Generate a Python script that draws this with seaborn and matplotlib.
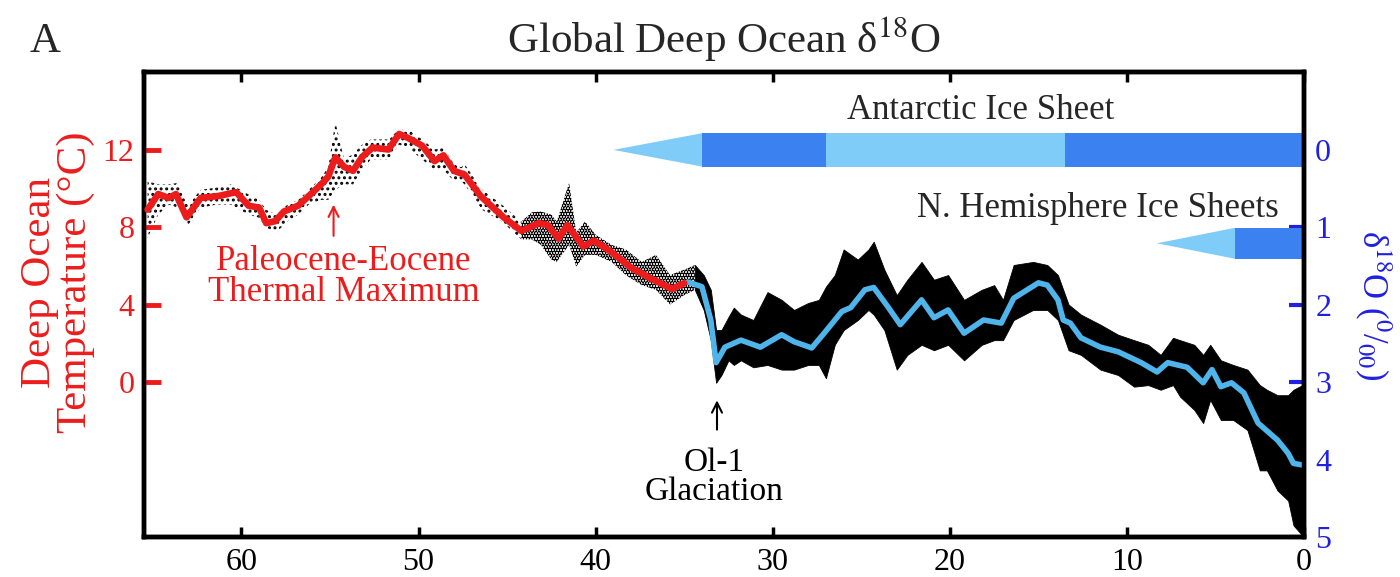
import numpy as np
import pandas as pd
import matplotlib
matplotlib.use("Agg")
import matplotlib.pyplot as plt
from matplotlib.patches import Polygon
import seaborn as sns

# --- data (age in Myr before present) ---
temp_age = [65.3, 64.7, 64.1, 63.7, 63.1, 62.3, 61.3, 60.3, 59.6, 59.0, 58.6, 58.1,
            57.6, 56.8, 56.2, 55.5, 55.1, 54.7, 54.2, 53.7, 53.2, 52.6, 51.7, 51.1,
            50.6, 49.8, 49.1, 48.6, 48.0, 47.4, 46.5, 45.2, 44.2, 43.2, 42.7, 42.1,
            41.6, 40.7, 40.1, 39.1, 38.0, 37.0, 35.7, 35.0]
temp_val = [8.9, 9.7, 9.5, 9.7, 8.5, 9.5, 9.6, 9.8, 9.1, 9.0, 8.2, 8.3,
            8.8, 9.1, 9.6, 10.2, 10.6, 11.6, 11.1, 10.9, 11.6, 12.1, 12.0, 12.8,
            12.6, 12.2, 11.4, 11.7, 10.9, 10.7, 9.6, 8.5, 7.8, 8.2, 8.1, 7.4,
            8.1, 7.0, 7.3, 6.7, 5.9, 5.4, 4.8, 5.1]

d18o_age = [34.8, 34.0, 33.5, 33.2, 32.7, 31.8, 30.7, 29.5, 28.8, 27.8, 27.1, 26.1,
            25.6, 24.8, 24.3, 23.5, 22.8, 21.6, 20.9, 20.1, 19.2, 18.1, 17.1, 16.4,
            15.0, 14.5, 13.9, 13.6, 13.2, 12.6, 11.5, 10.5, 9.2, 8.3, 7.7, 6.6,
            5.7, 5.2, 4.7, 4.1, 3.4, 2.6, 1.5, 0.9, 0.6, 0.1]
d18o_val = [1.71, 1.77, 2.20, 2.75, 2.55, 2.46, 2.55, 2.39, 2.48, 2.56, 2.37, 2.09,
            2.04, 1.81, 1.78, 2.03, 2.26, 1.94, 2.17, 2.07, 2.37, 2.20, 2.24, 1.92,
            1.72, 1.75, 1.94, 2.20, 2.24, 2.43, 2.55, 2.61, 2.75, 2.87, 2.75, 2.81,
            3.01, 2.84, 3.06, 3.01, 3.14, 3.53, 3.75, 3.92, 4.05, 4.07]

# spread of the raw d18O measurements (upper / lower edge of the black cloud)
# Paleocene / early Eocene: sparse samples
sparse_age = [65.3, 64.7, 64.1, 63.6, 63.0, 62.3, 61.4, 60.6, 59.6, 59.0, 58.6, 58.0,
              57.4, 56.8, 56.2, 55.5, 55.1, 54.7, 54.2, 53.7, 53.2, 52.7, 51.7, 51.1,
              50.6, 49.8, 49.1, 48.6, 48.0, 47.6, 47.4, 46.4, 45.3, 44.2]
sparse_top = [0.41, 0.45, 0.45, 0.43, 0.71, 0.52, 0.49, 0.45, 0.58, 0.65, 0.78, 0.84,
              0.71, 0.65, 0.52, 0.36, 0.23, -0.36, 0.13, 0.06, -0.06, -0.13, -0.13, -0.26,
              -0.26, -0.13, 0.00, -0.03, 0.19, 0.23, 0.19, 0.52, 0.71, 0.93]
sparse_bottom = [1.14, 0.84, 0.71, 0.75, 0.97, 0.75, 0.71, 0.71, 0.84, 0.88, 1.01, 1.06,
                 0.93, 0.84, 0.71, 0.65, 0.65, 0.52, 0.45, 0.45, 0.26, 0.13, 0.13, -0.06,
                 -0.03, 0.13, 0.26, 0.26, 0.41, 0.41, 0.45, 0.78, 0.93, 1.16]
# middle / late Eocene: denser samples
mid_age = [44.2, 43.6, 43.1, 42.5, 42.2, 41.5, 41.1, 40.6, 40.0, 39.1, 38.3, 37.4,
           36.6, 35.8, 35.0, 34.4]
mid_top = [0.93, 0.81, 0.80, 0.84, 0.93, 0.43, 1.07, 0.93, 1.10, 1.23, 1.29, 1.45,
           1.36, 1.62, 1.55, 1.49]
mid_bottom = [1.16, 1.16, 1.23, 1.42, 1.45, 1.23, 1.51, 1.36, 1.36, 1.45, 1.62, 1.75,
              1.81, 2.00, 1.88, 1.81]
# Oligocene to present: dense record
dense_age = [34.4, 33.9, 33.5, 33.2, 32.9, 32.5, 32.2, 31.8, 31.1,
             30.3, 29.5, 28.8, 28.0, 27.4, 27.0, 26.5, 26.0, 25.2, 24.6, 24.3, 23.7,
             23.0, 22.4, 21.6, 20.9, 20.1, 19.2, 18.2, 17.5, 17.0, 16.4, 15.3, 14.5,
             13.9, 13.3, 12.6, 11.5, 10.5, 9.6, 8.8, 8.1, 7.4, 7.0, 6.2, 5.7,
             5.3, 4.7, 4.0, 3.2, 2.5, 2.1, 1.5, 0.9, 0.6, 0.1, 0.0]
dense_top = [1.49, 1.62, 1.81, 2.33, 2.33, 2.16, 2.04, 2.13, 2.20,
             1.84, 1.94, 2.07, 1.98, 1.94, 1.77, 1.62, 1.29, 1.42, 1.29, 1.19, 1.55,
             1.88, 1.68, 1.45, 1.68, 1.62, 1.94, 1.81, 1.75, 1.94, 1.49, 1.45, 1.49,
             1.62, 2.00, 2.13, 2.26, 2.39, 2.46, 2.52, 2.65, 2.43, 2.46, 2.52, 2.65,
             2.52, 2.72, 2.78, 2.84, 3.04, 3.10, 3.17, 3.17, 3.10, 3.04, 3.04]
dense_bottom = [1.81, 2.07, 2.46, 3.01, 2.91, 2.72, 2.78, 2.72, 2.81,
                2.78, 2.84, 2.84, 2.78, 2.78, 2.95, 2.52, 2.33, 2.20, 2.07, 2.13, 2.33,
                2.84, 2.65, 2.52, 2.59, 2.52, 2.72, 2.52, 2.46, 2.46, 2.20, 2.07, 2.07,
                2.20, 2.59, 2.65, 2.84, 2.91, 3.06, 3.04, 3.10, 3.04, 3.19, 3.36, 3.53,
                3.23, 3.49, 3.49, 3.62, 4.14, 4.14, 4.40, 4.53, 4.85, 4.98, 4.98]

# ice sheet bars: (older age, younger age, shade)
antarctic_segments = [(34.0, 27.0, "dark"), (27.0, 13.5, "light"), (13.5, 0.0, "dark")]
antarctic_tip = 39.0
nh_segments = [(3.9, 0.0, "dark")]
nh_tip = 8.3

x_ticks = [60, 50, 40, 30, 20, 10, 0]
temp_ticks = [0, 4, 8, 12]
d18o_ticks = [0, 1, 2, 3, 4, 5]

RED = "#ec1c1c"
BLUE_LINE = "#4fb4ea"
BLUE_TXT = "#2020e0"
SHADES = {"dark": "#3b82f0", "light": "#80ccf8"}

sns.set_style("ticks")
plt.rcParams["font.family"] = ["Liberation Serif", "DejaVu Serif"]
plt.rcParams["mathtext.fontset"] = "stix"

fig = plt.figure(figsize=(14, 5.77), dpi=100)
ax = fig.add_axes([0.1029, 0.0693, 0.8286, 0.8059])
ax2 = ax.twinx()
# temperature curve must sit above the d18O cloud
ax.set_zorder(ax2.get_zorder() + 1)
ax.patch.set_visible(False)

# raw data cloud (dotted where the samples are sparse)
plt.rcParams["hatch.linewidth"] = 1.4
ax2.fill_between(sparse_age, sparse_top, sparse_bottom, facecolor="none",
                 edgecolor="black", hatch="...", lw=0, zorder=1)
plt.rcParams["hatch.linewidth"] = 2.2
ax2.fill_between(mid_age, mid_top, mid_bottom, facecolor="none",
                 edgecolor="black", hatch="......", lw=0, zorder=1)
ax2.fill_between(dense_age, dense_top, dense_bottom, color="black", lw=0.6, zorder=1)

temp_df = pd.DataFrame({"age": temp_age, "temp": temp_val})
d18o_df = pd.DataFrame({"age": d18o_age, "d18o": d18o_val})
sns.lineplot(data=temp_df, x="age", y="temp", ax=ax, color=RED, lw=4.8, zorder=3)
sns.lineplot(data=d18o_df, x="age", y="d18o", ax=ax2, color=BLUE_LINE, lw=4, zorder=3)

# temperature axis: T = 12 - 4 * d18O
ax.set_xlim(65.5, 0)
ax.set_ylim(-8, 16)
ax2.set_ylim(5.0, -1.0)


def ice_bar(segments, tip, y0, y1):
    for old, young, shade in segments:
        ax2.fill_between([old, young], y0, y1, color=SHADES[shade], lw=0, zorder=2)
    base = segments[0][0]
    tri = Polygon([[tip, (y0 + y1) / 2], [base, y0], [base, y1]], closed=True,
                  color=SHADES["light"], lw=0, zorder=2)
    ax2.add_patch(tri)


ice_bar(antarctic_segments, antarctic_tip, -0.21, 0.22)
ice_bar(nh_segments, nh_tip, 1.01, 1.41)

# ticks and frame
ax.set_xticks(x_ticks)
ax.set_yticks(temp_ticks)
ax2.set_yticks(d18o_ticks)
ax.set_xlabel("")
ax.set_ylabel("")
ax2.set_ylabel("")
ax.tick_params(axis="x", direction="in", length=7, width=2.5, labelsize=23,
               pad=8, top=True, colors="black")
ax.tick_params(axis="y", direction="in", length=12, width=3.5, labelsize=23,
               pad=7, colors=RED)
ax2.tick_params(axis="y", direction="in", length=11, width=3, labelsize=23,
                pad=8, colors=BLUE_TXT)
for a in (ax, ax2):
    for s in a.spines.values():
        s.set_linewidth(3.2)
        s.set_color("black")
        s.set_visible(True)

ax.set_title(r"Global Deep Ocean δ$^{18}$O", fontsize=31, pad=14)
fig.text(0.021, 0.91, "A", fontsize=31, va="baseline")
fig.text(0.041, 0.51, "Deep Ocean\nTemperature (°C)", rotation=90, color=RED,
         fontsize=31, ha="center", va="center", multialignment="center",
         linespacing=0.92)
fig.text(0.981, 0.47, r"δ$^{18}$O ($^{0}$/$_{00}$)", rotation=270, color=BLUE_TXT,
         fontsize=25, ha="center", va="center")

# annotations
ax.text(54.2, 5.4, "Paleocene-Eocene\nThermal Maximum", color=RED, fontsize=25,
        ha="center", va="center", linespacing=0.92)
ax.annotate("", xy=(54.8, 9.3), xytext=(54.8, 7.4),
            arrowprops=dict(arrowstyle="->", color=RED, lw=1.5, mutation_scale=18))
ax.text(33.3, -4.9, "Ol-1\nGlaciation", color="black", fontsize=24,
        ha="center", va="center", linespacing=0.95)
ax.annotate("", xy=(33.15, -0.8), xytext=(33.15, -2.6),
            arrowprops=dict(arrowstyle="->", color="black", lw=1.5, mutation_scale=18))
ax2.text(18.25, -0.39, "Antarctic Ice Sheet", fontsize=25, ha="center", va="baseline")
ax2.text(1.45, 0.87, "N. Hemisphere Ice Sheets", fontsize=25, ha="right", va="baseline")

fig.savefig("out.png", dpi=100)
